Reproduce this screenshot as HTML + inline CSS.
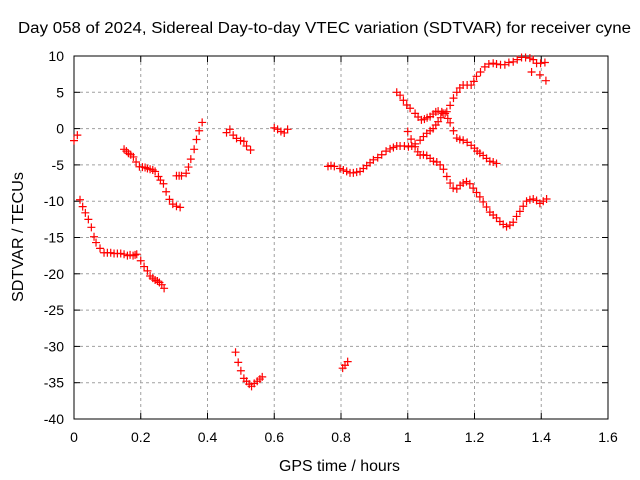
<!DOCTYPE html>
<html><head><meta charset="utf-8"><style>
html,body{margin:0;padding:0;background:#fff;}
svg{display:block;font-family:"Liberation Sans",sans-serif;}
</style></head><body>
<svg id="chart" width="640" height="480" viewBox="0 0 640 480"></svg>
<script>
const xTicks=[0,0.2,0.4,0.6,0.8,1,1.2,1.4,1.6];
const xTickLabels=["0","0.2","0.4","0.6","0.8","1","1.2","1.4","1.6"];
const yTicks=[10,5,0,-5,-10,-15,-20,-25,-30,-35,-40];
const yTickLabels=["10","5","0","-5","-10","-15","-20","-25","-30","-35","-40"];
const segAx=[0,0.01];
const segAy=[-1.66,-0.9];
const segBx=[0.018,0.026,0.034,0.043,0.052,0.06,0.066,0.078,0.09,0.1,0.11,0.12,0.13,0.14,0.15,0.16,0.168,0.177,0.183,0.188,0.2,0.21,0.22,0.228,0.236,0.243,0.25,0.256,0.263,0.27];
const segBy=[-9.8,-10.75,-11.6,-12.5,-13.6,-14.9,-15.7,-16.5,-17.1,-17.1,-17.1,-17.2,-17.2,-17.2,-17.3,-17.5,-17.4,-17.5,-17.4,-17.3,-18.2,-19,-19.6,-20.3,-20.6,-20.85,-21.0,-21.2,-21.5,-22];
const segCx=[0.15,0.157,0.163,0.17,0.178,0.186,0.196,0.205,0.213,0.22,0.228,0.236,0.243,0.253,0.259,0.268,0.276,0.286,0.296,0.307,0.318];
const segCy=[-2.85,-3.1,-3.4,-3.6,-3.9,-4.6,-5.25,-5.3,-5.35,-5.5,-5.6,-5.7,-5.9,-6.6,-7.1,-7.6,-8.7,-9.75,-10.4,-10.7,-10.85];
const segDx=[0.307,0.315,0.322,0.336,0.343,0.35,0.36,0.367,0.375,0.384];
const segDy=[-6.5,-6.5,-6.5,-6.15,-5.3,-4.2,-2.85,-1.5,-0.3,0.85];
const segEx=[0.457,0.467,0.477,0.487,0.499,0.509,0.517,0.529];
const segEy=[-0.55,-0.1,-0.9,-1.35,-1.65,-1.75,-2.4,-2.95];
const segFx=[0.484,0.492,0.5,0.509,0.517,0.525,0.532,0.54,0.549,0.557,0.564];
const segFy=[-30.8,-32.2,-33.35,-34.4,-34.8,-35.2,-35.5,-35.1,-34.8,-34.5,-34.2];
const segGx=[0.6,0.61,0.62,0.63,0.64];
const segGy=[0.1,-0.1,-0.4,-0.6,-0.1];
const segHx=[0.805,0.812,0.82];
const segHy=[-33.0,-32.6,-32.1];
const segIx=[0.761,0.77,0.78,0.797,0.807,0.817,0.827,0.837,0.847,0.857,0.867,0.877,0.887,0.897,0.91,0.922,0.935,0.947,0.957,0.967,0.977,0.99,1.002,1.012,1.022,1.037,1.047,1.057,1.067,1.076,1.084,1.091,1.099,1.106,1.117,1.127,1.137,1.147,1.156,1.166,1.178,1.19,1.198,1.206,1.218,1.231,1.243,1.256,1.266,1.278,1.291,1.303,1.316,1.328,1.341,1.353,1.366,1.376,1.386,1.398,1.411];
const segIy=[-5.2,-5.1,-5.2,-5.5,-5.7,-5.9,-6.1,-6.1,-6.0,-5.9,-5.5,-5.1,-4.7,-4.3,-4.0,-3.6,-3.1,-2.8,-2.6,-2.4,-2.4,-2.4,-2.5,-2.4,-2.1,-1.6,-1.1,-0.65,-0.3,0.0,0.5,0.95,1.5,2.1,2.33,3.2,4.2,5.0,5.6,6.0,6.0,6.0,6.5,7.2,7.8,8.5,8.9,9.0,8.9,8.8,8.8,9.1,9.2,9.5,9.8,9.8,9.7,9.5,9.0,9.0,9.1];
const segJx=[0.967,0.977,0.987,0.997,1.007,1.022,1.031,1.041,1.05,1.058,1.067,1.076,1.084,1.091,1.102,1.112,1.12,1.127,1.137,1.147,1.156,1.166,1.178,1.19,1.2,1.208,1.216,1.226,1.236,1.246,1.256,1.266];
const segJy=[5.0,4.6,3.9,3.25,2.8,2.1,1.6,1.2,1.3,1.5,1.65,2.0,2.3,2.4,2.3,2.1,1.4,0.8,-0.3,-1.3,-1.5,-1.6,-1.9,-2.3,-2.7,-3.1,-3.4,-3.7,-4.1,-4.5,-4.6,-4.8];
const segKx=[1.022,1.03,1.037,1.047,1.057,1.067,1.077,1.087,1.097,1.107,1.117,1.127,1.136,1.147,1.157,1.166,1.176,1.186,1.196,1.206,1.216,1.226,1.236,1.246,1.256,1.266,1.276,1.286,1.296,1.306,1.316,1.326,1.336,1.346,1.356,1.366,1.376,1.386,1.396,1.406,1.416];
const segKy=[-2.5,-3.2,-3.65,-3.6,-3.7,-4.1,-4.5,-4.6,-5.0,-5.6,-6.6,-7.5,-8.2,-8.3,-7.8,-7.5,-7.3,-7.6,-8.2,-8.8,-9.4,-10.1,-10.8,-11.5,-11.9,-12.3,-12.8,-13.2,-13.5,-13.3,-12.9,-12.1,-11.4,-10.7,-10.0,-9.8,-9.7,-9.9,-10.3,-10.0,-9.7];
const segLx=[1.0,1.01,1.371,1.396,1.414];
const segLy=[-0.4,-1.45,7.8,7.4,6.6];

const svg=document.getElementById('chart');
const NS='http://www.w3.org/2000/svg';
const L=74,R=608,T=56,B=419;
const xS=v=>L+(v-0)/(1.6-0)*(R-L);
const yS=v=>B-(v+40)/50*(B-T);
function mk(tag,attrs,parent){const e=document.createElementNS(NS,tag);for(const k in attrs)e.setAttribute(k,attrs[k]);(parent||svg).appendChild(e);return e;}

const grid=mk('g',{});


xTicks.forEach((t,i)=>{
  const x=xS(t);
  if(i>0&&i<xTicks.length-1){const g=mk('line',{x1:x,y1:T,x2:x,y2:B,stroke:'#a0a0a0','stroke-width':1,'stroke-dasharray':'3,3'},grid);
  
  }
  mk('line',{x1:x,y1:B,x2:x,y2:B-6,stroke:'#000'},grid);
  mk('line',{x1:x,y1:T,x2:x,y2:T+6,stroke:'#000'},grid);
  const tx=mk('text',{x:x,y:442,'text-anchor':'middle','font-size':14,fill:'#000'});
  tx.textContent=xTickLabels[i];
  
  
});
yTicks.forEach((t,i)=>{
  const y=yS(t);
  if(i>0&&i<yTicks.length-1){const g=mk('line',{x1:L,y1:y,x2:R,y2:y,stroke:'#a0a0a0','stroke-width':1,'stroke-dasharray':'3,3'},grid);
  
  }
  mk('line',{x1:L,y1:y,x2:L+6,y2:y,stroke:'#000'},grid);
  mk('line',{x1:R,y1:y,x2:R-6,y2:y,stroke:'#000'},grid);
  const tx=mk('text',{x:64,y:y+5,'text-anchor':'end','font-size':14,fill:'#000'});
  tx.textContent=yTickLabels[i];
  
  
});
const frame=mk('rect',{x:L,y:T,width:R-L,height:B-T,fill:'none',stroke:'#000','stroke-width':1});



const pts=mk('g',{stroke:'#ff0000','stroke-width':1.2});


const segs=[[segAx,segAy],[segBx,segBy],[segCx,segCy],[segDx,segDy],[segEx,segEy],[segFx,segFy],[segGx,segGy],[segHx,segHy],[segIx,segIy],[segJx,segJy],[segKx,segKy],[segLx,segLy]];
segs.forEach(([xs,ys])=>{
  xs.forEach((xv,i)=>{
    const x=xS(xv),y=yS(ys[i]);
    const p=mk('path',{d:`M${x-4} ${y}H${x+4}M${x} ${y-4}V${y+4}`,fill:'none'},pts);
    
    
  });
});

const title=mk('text',{x:18,y:33,'font-size':15.5,fill:'#000',textLength:613,lengthAdjust:'spacingAndGlyphs'});
title.textContent='Day 058 of 2024, Sidereal Day-to-day VTEC variation (SDTVAR) for receiver cyne';


const xt=mk('text',{x:279,y:471,'font-size':15.5,fill:'#000',textLength:121,lengthAdjust:'spacingAndGlyphs'});
xt.textContent='GPS time / hours';


const yt=mk('text',{x:0,y:0,'font-size':15.5,fill:'#000',textLength:130,lengthAdjust:'spacingAndGlyphs',transform:'translate(23,302) rotate(-90)'});
yt.textContent='SDTVAR / TECUs';


</script>
</body></html>
